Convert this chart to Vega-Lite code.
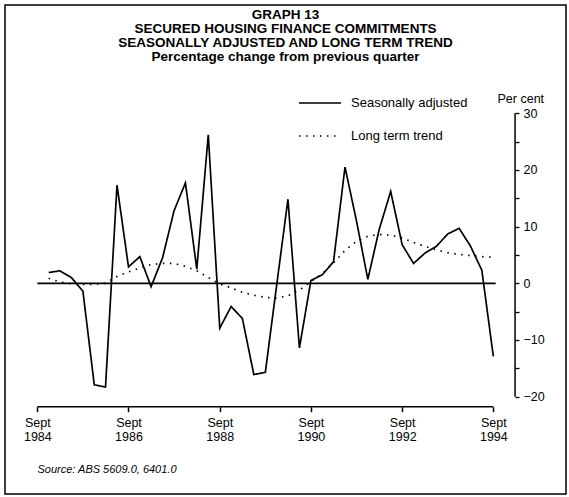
{
  "$schema": "https://vega.github.io/schema/vega-lite/v6.json",
  "autosize": {"type": "none"},
  "padding": {"left": 5, "top": 5, "right": 3, "bottom": 3},
  "width": 561,
  "height": 489,
  "background": "white",
  "config": {
    "font": "Liberation Sans",
    "view": {"stroke": "black", "strokeWidth": 1.5}
  },
  "title": {
    "text": ["GRAPH 13", "SECURED HOUSING FINANCE COMMITMENTS", "SEASONALLY ADJUSTED AND LONG TERM TREND", "Percentage change from previous quarter"],
    "anchor": "middle",
    "offset": -58,
    "fontSize": 13.5,
    "fontWeight": "bold",
    "lineHeight": 14,
    "color": "black"
  },
  "layer": [
    {
      "data": {
        "values": [
          {"date": "1984-12-01", "series": "Seasonally adjusted", "value": 1.9},
          {"date": "1985-03-01", "series": "Seasonally adjusted", "value": 2.2},
          {"date": "1985-06-01", "series": "Seasonally adjusted", "value": 1.0},
          {"date": "1985-09-01", "series": "Seasonally adjusted", "value": -1.4},
          {"date": "1985-12-01", "series": "Seasonally adjusted", "value": -17.9},
          {"date": "1986-03-01", "series": "Seasonally adjusted", "value": -18.3},
          {"date": "1986-06-01", "series": "Seasonally adjusted", "value": 17.3},
          {"date": "1986-09-01", "series": "Seasonally adjusted", "value": 2.9},
          {"date": "1986-12-01", "series": "Seasonally adjusted", "value": 4.7},
          {"date": "1987-03-01", "series": "Seasonally adjusted", "value": -0.6},
          {"date": "1987-06-01", "series": "Seasonally adjusted", "value": 4.5},
          {"date": "1987-09-01", "series": "Seasonally adjusted", "value": 12.8},
          {"date": "1987-12-01", "series": "Seasonally adjusted", "value": 17.7},
          {"date": "1988-03-01", "series": "Seasonally adjusted", "value": 2.5},
          {"date": "1988-06-01", "series": "Seasonally adjusted", "value": 26.2},
          {"date": "1988-09-01", "series": "Seasonally adjusted", "value": -7.9},
          {"date": "1988-12-01", "series": "Seasonally adjusted", "value": -4.1},
          {"date": "1989-03-01", "series": "Seasonally adjusted", "value": -6.2},
          {"date": "1989-06-01", "series": "Seasonally adjusted", "value": -16.1},
          {"date": "1989-09-01", "series": "Seasonally adjusted", "value": -15.7},
          {"date": "1989-12-01", "series": "Seasonally adjusted", "value": -0.3},
          {"date": "1990-03-01", "series": "Seasonally adjusted", "value": 14.8},
          {"date": "1990-06-01", "series": "Seasonally adjusted", "value": -11.4},
          {"date": "1990-09-01", "series": "Seasonally adjusted", "value": 0.5},
          {"date": "1990-12-01", "series": "Seasonally adjusted", "value": 1.5},
          {"date": "1991-03-01", "series": "Seasonally adjusted", "value": 3.8},
          {"date": "1991-06-01", "series": "Seasonally adjusted", "value": 20.5},
          {"date": "1991-09-01", "series": "Seasonally adjusted", "value": 11.0},
          {"date": "1991-12-01", "series": "Seasonally adjusted", "value": 0.7},
          {"date": "1992-03-01", "series": "Seasonally adjusted", "value": 9.5},
          {"date": "1992-06-01", "series": "Seasonally adjusted", "value": 16.2},
          {"date": "1992-09-01", "series": "Seasonally adjusted", "value": 6.8},
          {"date": "1992-12-01", "series": "Seasonally adjusted", "value": 3.5},
          {"date": "1993-03-01", "series": "Seasonally adjusted", "value": 5.3},
          {"date": "1993-06-01", "series": "Seasonally adjusted", "value": 6.5},
          {"date": "1993-09-01", "series": "Seasonally adjusted", "value": 8.7},
          {"date": "1993-12-01", "series": "Seasonally adjusted", "value": 9.7},
          {"date": "1994-03-01", "series": "Seasonally adjusted", "value": 6.6},
          {"date": "1994-06-01", "series": "Seasonally adjusted", "value": 2.3},
          {"date": "1994-09-01", "series": "Seasonally adjusted", "value": -12.9},
          {"date": "1984-12-01", "series": "Long term trend", "value": 0.9},
          {"date": "1985-03-01", "series": "Long term trend", "value": 0.2},
          {"date": "1985-06-01", "series": "Long term trend", "value": -0.1},
          {"date": "1985-09-01", "series": "Long term trend", "value": -0.2},
          {"date": "1985-12-01", "series": "Long term trend", "value": -0.2},
          {"date": "1986-03-01", "series": "Long term trend", "value": 0.0},
          {"date": "1986-06-01", "series": "Long term trend", "value": 1.2},
          {"date": "1986-09-01", "series": "Long term trend", "value": 2.0},
          {"date": "1986-12-01", "series": "Long term trend", "value": 2.7},
          {"date": "1987-03-01", "series": "Long term trend", "value": 3.3},
          {"date": "1987-06-01", "series": "Long term trend", "value": 3.5},
          {"date": "1987-09-01", "series": "Long term trend", "value": 3.5},
          {"date": "1987-12-01", "series": "Long term trend", "value": 3.0},
          {"date": "1988-03-01", "series": "Long term trend", "value": 2.2},
          {"date": "1988-06-01", "series": "Long term trend", "value": 1.0},
          {"date": "1988-09-01", "series": "Long term trend", "value": -0.1},
          {"date": "1988-12-01", "series": "Long term trend", "value": -0.8},
          {"date": "1989-03-01", "series": "Long term trend", "value": -1.6},
          {"date": "1989-06-01", "series": "Long term trend", "value": -2.1},
          {"date": "1989-09-01", "series": "Long term trend", "value": -2.5},
          {"date": "1989-12-01", "series": "Long term trend", "value": -2.6},
          {"date": "1990-03-01", "series": "Long term trend", "value": -2.2},
          {"date": "1990-06-01", "series": "Long term trend", "value": -1.2},
          {"date": "1990-09-01", "series": "Long term trend", "value": 0.3},
          {"date": "1990-12-01", "series": "Long term trend", "value": 1.7},
          {"date": "1991-03-01", "series": "Long term trend", "value": 3.6},
          {"date": "1991-06-01", "series": "Long term trend", "value": 5.8},
          {"date": "1991-09-01", "series": "Long term trend", "value": 7.4},
          {"date": "1991-12-01", "series": "Long term trend", "value": 8.3},
          {"date": "1992-03-01", "series": "Long term trend", "value": 8.6},
          {"date": "1992-06-01", "series": "Long term trend", "value": 8.5},
          {"date": "1992-09-01", "series": "Long term trend", "value": 8.0},
          {"date": "1992-12-01", "series": "Long term trend", "value": 7.2},
          {"date": "1993-03-01", "series": "Long term trend", "value": 6.5},
          {"date": "1993-06-01", "series": "Long term trend", "value": 5.9},
          {"date": "1993-09-01", "series": "Long term trend", "value": 5.4},
          {"date": "1993-12-01", "series": "Long term trend", "value": 5.1},
          {"date": "1994-03-01", "series": "Long term trend", "value": 4.9},
          {"date": "1994-06-01", "series": "Long term trend", "value": 4.7},
          {"date": "1994-09-01", "series": "Long term trend", "value": 4.6}
        ]
      },
      "mark": {"type": "line", "color": "black", "strokeWidth": 1.7},
      "encoding": {
        "x": {
          "field": "date",
          "type": "temporal",
          "scale": {
            "domain": [
              {"year": 1983, "month": 12, "date": 17, "utc": true},
              {"year": 1996, "month": 4, "date": 5, "utc": true}
            ]
          },
          "axis": {
            "orient": "bottom",
            "offset": -87.3,
            "domain": false,
            "grid": false,
            "ticks": true,
            "tickSize": 5,
            "tickWidth": 1.5,
            "tickColor": "black",
            "values": [
              {"year": 1984, "month": 9, "date": 1, "utc": true},
              {"year": 1986, "month": 9, "date": 1, "utc": true},
              {"year": 1988, "month": 9, "date": 1, "utc": true},
              {"year": 1990, "month": 9, "date": 1, "utc": true},
              {"year": 1992, "month": 9, "date": 1, "utc": true},
              {"year": 1994, "month": 9, "date": 1, "utc": true}
            ],
            "labelExpr": "['Sept', utcFormat(datum.value, '%Y')]",
            "labelFontSize": 12.5,
            "labelLineHeight": 13.5,
            "labelColor": "black",
            "labelPadding": 5,
            "labelFlush": false,
            "labelOverlap": false,
            "title": "Source: ABS 5609.0, 6401.0",
            "titleFontStyle": "italic",
            "titleFontWeight": "normal",
            "titleFontSize": 11,
            "titleColor": "black",
            "titleAnchor": "start",
            "titleAlign": "left",
            "titleBaseline": "middle",
            "titleX": 32,
            "titleY": 63
          }
        },
        "y": {
          "field": "value",
          "type": "quantitative",
          "scale": {"domain": [-37.16, 49.08], "nice": false, "zero": false},
          "axis": {
            "orient": "right",
            "offset": -51,
            "domain": false,
            "grid": false,
            "values": [-20, -15, -10, -5, 0, 5, 10, 15, 20, 25, 30],
            "labelExpr": "datum.value % 10 === 0 ? datum.label : ''",
            "tickSize": 4,
            "tickWidth": 1.3,
            "tickColor": "black",
            "labelFontSize": 12.5,
            "labelColor": "black",
            "labelPadding": 4,
            "title": "Per cent",
            "titleAngle": 0,
            "titleFontSize": 12.5,
            "titleFontWeight": "normal",
            "titleColor": "black",
            "titleAlign": "left",
            "titleBaseline": "middle",
            "titleX": -18,
            "titleY": 93
          }
        },
        "strokeDash": {
          "field": "series",
          "type": "nominal",
          "scale": {
            "domain": ["Seasonally adjusted", "Long term trend"],
            "range": [[1, 0], [1.5, 5.5]]
          },
          "legend": {
            "orient": "none",
            "legendX": 293,
            "legendY": 76,
            "title": null,
            "symbolType": "stroke",
            "symbolSize": 1764,
            "symbolStrokeWidth": 1.5,
            "symbolStrokeColor": "black",
            "labelFontSize": 13,
            "labelColor": "black",
            "labelOffset": 9,
            "rowPadding": 4
          }
        }
      }
    },
    {
      "data": {"values": [{}]},
      "mark": {"type": "rule", "color": "black", "strokeWidth": 1.8},
      "encoding": {
        "x": {"datum": {"year": 1984, "month": 9, "date": 1, "utc": true}, "type": "temporal"},
        "x2": {"datum": {"year": 1994, "month": 9, "date": 20, "utc": true}},
        "y": {"datum": 0, "type": "quantitative"}
      }
    },
    {
      "data": {"values": [{}]},
      "mark": {"type": "rule", "color": "black", "strokeWidth": 1.5},
      "encoding": {
        "x": {"datum": {"year": 1984, "month": 9, "date": 1, "utc": true}, "type": "temporal"},
        "x2": {"datum": {"year": 1994, "month": 9, "date": 1, "utc": true}},
        "y": {"datum": -21.76, "type": "quantitative"}
      }
    },
    {
      "data": {"values": [{}]},
      "mark": {"type": "rule", "color": "black", "strokeWidth": 1.5},
      "encoding": {
        "x": {"datum": {"year": 1995, "month": 2, "date": 22, "utc": true}, "type": "temporal"},
        "y": {"datum": -20, "type": "quantitative"},
        "y2": {"datum": 30}
      }
    }
  ]
}
